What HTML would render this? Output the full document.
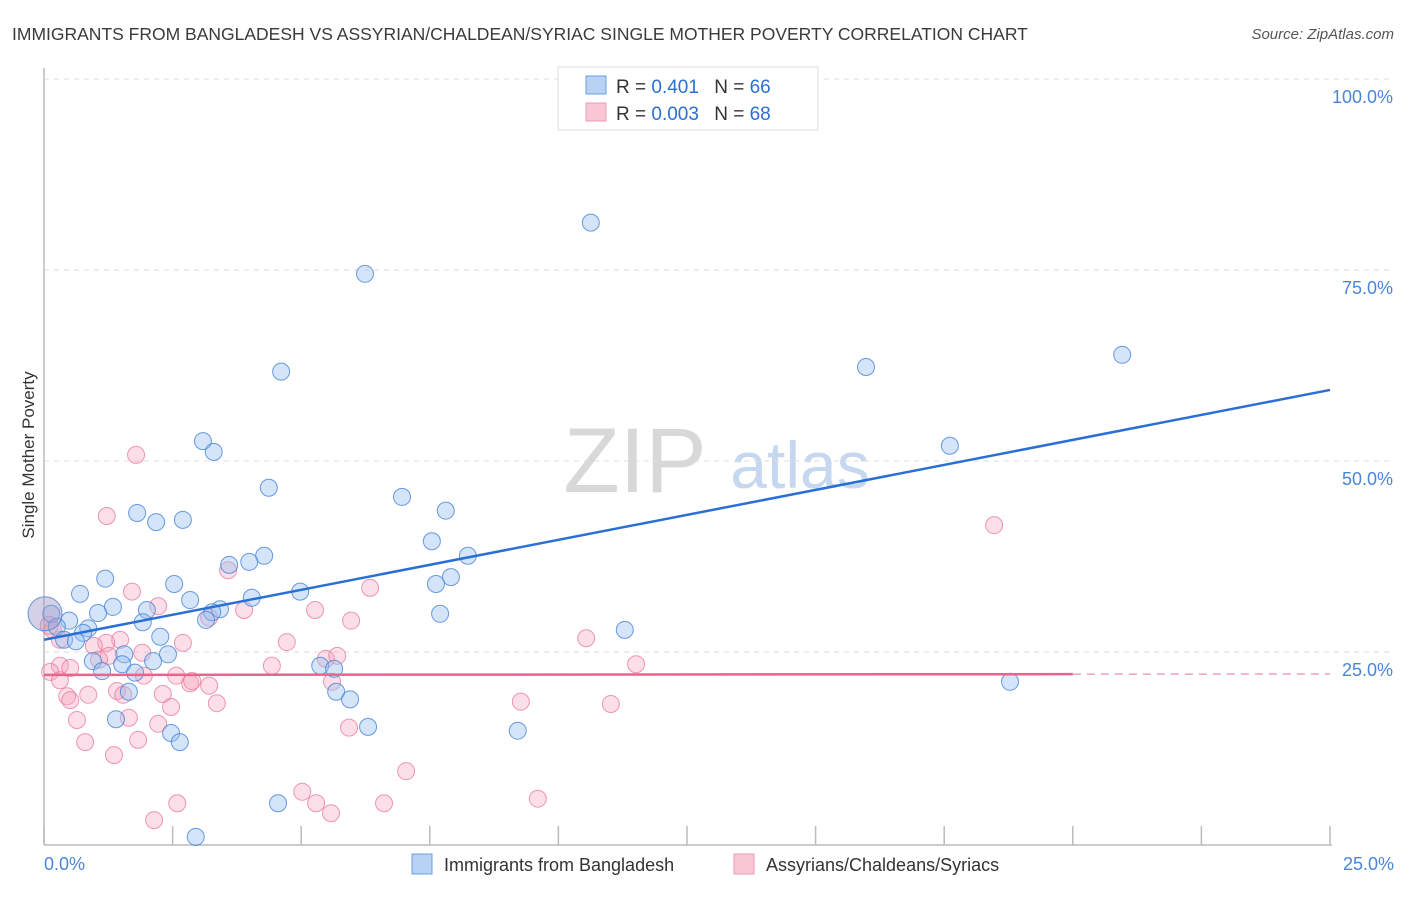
<!DOCTYPE html>
<html><head><meta charset="utf-8"><style>
body{margin:0;background:#fff;font-family:"Liberation Sans",sans-serif;}
svg text{font-family:"Liberation Sans",sans-serif;}
</style></head><body>
<svg id="chart" width="1406" height="892" xmlns="http://www.w3.org/2000/svg">
<text x="12" y="40" font-size="17.5" fill="#3a3a3a">IMMIGRANTS FROM BANGLADESH VS ASSYRIAN/CHALDEAN/SYRIAC SINGLE MOTHER POVERTY CORRELATION CHART</text>
<text x="1394" y="39" font-size="15" fill="#555" text-anchor="end" font-style="italic">Source: ZipAtlas.com</text>
<g>
<text x="635" y="492" font-size="92" fill="#d8d8d8" font-family="Liberation Serif, serif" text-anchor="middle">ZIP</text>
<text x="800" y="488" font-size="66" fill="#c5d8f0" text-anchor="middle">atlas</text>
</g>
<g id="grid"></g>
<g id="marks"></g>
<text transform="translate(34,455) rotate(-90)" font-size="17" fill="#333" text-anchor="middle">Single Mother Poverty</text>
<g>
<rect x="558" y="67" width="260" height="63" fill="#fff" stroke="#ddd"/>
<rect x="586" y="76" width="20" height="18" fill="#b8d2f4" stroke="#6a9fe0"/>
<rect x="586" y="103" width="20" height="18" fill="#f8c6d4" stroke="#ec9ab2"/>
<text x="616" y="93" font-size="19" fill="#333">R = <tspan fill="#2a6fd6">0.401</tspan>  <tspan dx="10">N = </tspan><tspan fill="#2a6fd6">66</tspan></text>
<text x="616" y="120" font-size="19" fill="#333">R = <tspan fill="#2a6fd6">0.003</tspan>  <tspan dx="10">N = </tspan><tspan fill="#2a6fd6">68</tspan></text>
</g>
<g>
<rect x="412" y="854" width="20" height="20" fill="#b8d2f4" stroke="#6a9fe0"/>
<text x="444" y="871" font-size="18" fill="#333">Immigrants from Bangladesh</text>
<rect x="734" y="854" width="20" height="20" fill="#f8c6d4" stroke="#ec9ab2"/>
<text x="766" y="871" font-size="18" fill="#333">Assyrians/Chaldeans/Syriacs</text>
</g>
</svg>
<script>
const blueX=[10.63,6.24,4.61,15.98,20.96,3.09,3.30,17.61,4.37,6.96,7.81,1.81,2.18,2.70,7.54,8.24,4.28,3.99,3.60,7.91,7.62,1.19,2.53,4.98,0.70,2.84,4.04,1.34,2.00,1.05,3.42,3.27,7.70,3.15,1.92,0.49,0.14,11.29,0.86,2.26,0.25,0.76,0.39,0.62,2.41,1.56,0.95,2.12,1.52,5.37,1.13,5.64,1.77,5.68,5.95,1.65,18.78,1.40,6.30,9.21,2.47,2.64,4.55,2.95,0.02];
const blueY=[81.2,74.5,61.7,62.3,63.9,52.6,51.2,52.0,46.5,45.3,43.5,43.2,42.0,42.3,39.5,37.6,37.6,36.8,36.4,34.8,33.9,34.6,33.9,32.9,32.6,31.8,32.1,30.9,30.5,30.1,30.6,30.2,30.0,29.2,28.9,29.1,30.0,27.9,28.1,27.0,28.3,27.5,26.6,26.4,24.7,24.7,23.8,23.8,23.4,23.2,22.5,22.8,22.3,19.8,18.8,19.8,21.1,16.2,15.2,14.7,14.4,13.2,5.2,0.8,30.0];
const pinkX=[1.79,1.22,3.58,6.34,1.71,2.22,5.27,3.89,5.97,3.21,0.17,1.48,10.54,4.72,2.70,1.21,0.97,0.31,1.91,1.26,5.48,5.70,4.43,11.51,0.31,0.51,1.07,0.12,2.57,2.84,1.94,2.88,3.21,0.31,5.60,1.42,1.54,0.45,2.31,0.86,0.51,3.36,9.27,11.02,2.47,1.65,2.22,0.64,5.93,1.83,0.80,1.36,7.04,5.02,5.29,6.61,9.60,2.59,5.58,2.14,18.47,0.10];
const pinkY=[50.8,42.8,35.7,33.4,32.9,31.0,30.5,30.5,29.1,29.5,27.9,26.6,26.8,26.3,26.2,26.2,25.8,26.6,24.9,24.5,24.1,24.5,23.2,23.4,23.2,22.9,24.0,22.4,21.9,20.9,21.9,21.2,20.6,21.3,21.1,19.9,19.4,19.2,19.5,19.4,18.7,18.3,18.5,18.2,17.8,16.4,15.6,16.1,15.1,13.5,13.2,11.5,9.4,6.7,5.2,5.2,5.8,5.2,3.9,3.0,41.6,28.5];
const blueTrend=[26.6,59.3];
const pinkTrend=[22.0,22.1];
const yTicks=[25,50,75,100];
const xTickVals=[0,2.5,5,7.5,10,12.5,15,17.5,20,22.5,25];
const NS='http://www.w3.org/2000/svg';
const X0=44,X1=1330,Y0=843,Y100=79;
function sx(v){return X0+(X1-X0)*v/25;}
function sy(v){return Y0-(Y0-Y100)*v/100;}
function mk(t,a,p){const e=document.createElementNS(NS,t);for(const k in a)e.setAttribute(k,a[k]);p.appendChild(e);return e;}
const grid=document.getElementById('grid'),marks=document.getElementById('marks');
yTicks.forEach(v=>{
 const l=mk('line',{x1:X0,x2:1394,y1:sy(v),y2:sy(v),stroke:'#ddd','stroke-dasharray':'5,5'},grid);
 
 
 const t=mk('text',{x:1393,y:sy(v)+24,'font-size':18,fill:'#4a86d8','text-anchor':'end'},grid);
 t.textContent=v.toFixed(1)+'%';
 
 
});
const ax=mk('line',{x1:X0,x2:X0,y1:68,y2:845,stroke:'#bbb','stroke-width':1.5},grid);


const bx=mk('line',{x1:X0,x2:X1+2,y1:845,y2:845,stroke:'#bbb','stroke-width':1.5},grid);


xTickVals.forEach(v=>{
 const l=mk('line',{x1:sx(v),x2:sx(v),y1:826,y2:845,stroke:'#bbb','stroke-width':1.5},grid);
 
 
});
[[0,'start','0.0%'],[25,'end','25.0%']].forEach(a=>{
 const t=mk('text',{x:a[0]==0?44:1394,y:870,'font-size':18,fill:'#4a86d8','text-anchor':a[1]},grid);
 t.textContent=a[2];
 
 
});
pinkX.forEach((x,i)=>{
 const c=mk('circle',{cx:sx(x),cy:sy(pinkY[i]),r:(i==pinkX.length-1?9:8.5),fill:'rgba(244,160,185,0.35)',stroke:'rgba(232,120,155,0.75)','stroke-width':1},marks);
 
 
});
blueX.forEach((x,i)=>{
 const big=i==blueX.length-1;
 const c=mk('circle',{cx:sx(x),cy:sy(blueY[i]),r:big?17:8.5,fill:big?'rgba(160,150,200,0.45)':'rgba(150,190,240,0.4)',stroke:'rgba(70,130,215,0.8)','stroke-width':1},marks);
 
 
});
const bl=mk('line',{x1:sx(0),y1:sy(blueTrend[0]),x2:sx(25),y2:sy(blueTrend[1]),stroke:'#2a6fd6','stroke-width':2.5},marks);


const pl=mk('line',{x1:sx(0),y1:sy(pinkTrend[0]),x2:sx(20),y2:sy(pinkTrend[1]),stroke:'#e8648c','stroke-width':2.5},marks);


const pd=mk('line',{x1:sx(20),y1:sy(pinkTrend[1]),x2:sx(25),y2:sy(pinkTrend[1]+0.02),stroke:'#eea0b8','stroke-width':1.5,'stroke-dasharray':'8,6'},marks);


</script>
</body></html>
